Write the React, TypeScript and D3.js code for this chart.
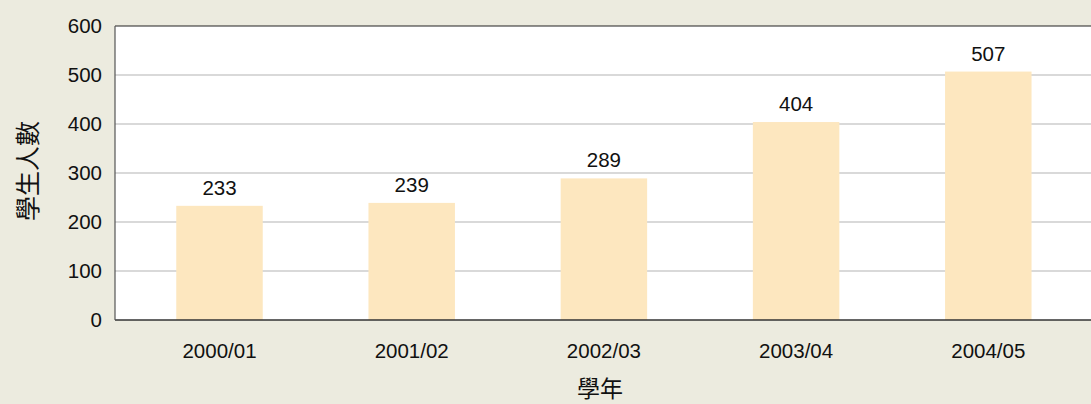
import React from "react";
import * as d3 from "d3";

const categories = ["2000/01", "2001/02", "2002/03", "2003/04", "2004/05"];
const values = [233, 239, 289, 404, 507];
const yTicks = [0, 100, 200, 300, 400, 500, 600];
const yTitle = "學生人數";
const xTitle = "學年";

export default function App() {
  const W = 1091, H = 404;
  const left = 115, top = 26, bottom = 320;
  const x = d3.scaleBand<string>().domain(categories).range([123.4, 1084.4]).paddingInner(0.55).paddingOuter(0.275);
  const y = d3.scaleLinear().domain([0, 600]).range([bottom, top]);
  const font = "Liberation Sans, Arial, sans-serif";
  const cjk = "Noto Sans CJK TC, sans-serif";
  return (
    <svg width={W} height={H} style={{ position: "absolute", left: 0, top: 0, display: "block" }}>
      <rect x={0} y={0} width={W} height={H} fill="#ecebdf" />
      <rect x={left} y={top} width={W - left} height={bottom - top} fill="#ffffff" />
      {yTicks.filter(t => t > 0 && t < 600).map(t => (
        <line key={t} x1={left} x2={W} y1={y(t)} y2={y(t)} stroke="#b4b4b4" strokeWidth={1.2} />
      ))}
      {categories.map((c, i) => (
        <rect key={c} x={x(c)!} y={y(values[i])} width={x.bandwidth()} height={bottom - y(values[i])} fill="#fde7bf" />
      ))}
      <line x1={left} x2={W} y1={y(600)} y2={y(600)} stroke="#222" strokeWidth={1.2} />
      <line x1={left} x2={W} y1={bottom} y2={bottom} stroke="#333" strokeWidth={1.5} />
      <line x1={left} x2={left} y1={top} y2={bottom} stroke="#555" strokeWidth={1.2} />
      {yTicks.map(t => (
        <text key={t} x={102} y={y(t)} dy="0.36em" textAnchor="end" fontFamily={font} fontSize={20.5} fill="#111">{t}</text>
      ))}
      {categories.map((c) => (
        <text key={c} x={x(c)! + x.bandwidth() / 2} y={358} textAnchor="middle" fontFamily={font} fontSize={20.5} fill="#111">{c}</text>
      ))}
      {categories.map((c, i) => (
        <text key={c + "v"} x={x(c)! + x.bandwidth() / 2} y={y(values[i]) - 11} textAnchor="middle" fontFamily={font} fontSize={20.5} fill="#111">{values[i]}</text>
      ))}
      <text x={600} y={397} textAnchor="middle" fontFamily={cjk} fontSize={23} fill="#111">{xTitle}</text>
      <text transform={`translate(37,171) rotate(-90)`} textAnchor="middle" fontFamily={cjk} fontSize={25} fill="#111">{yTitle}</text>
    </svg>
  );
}
